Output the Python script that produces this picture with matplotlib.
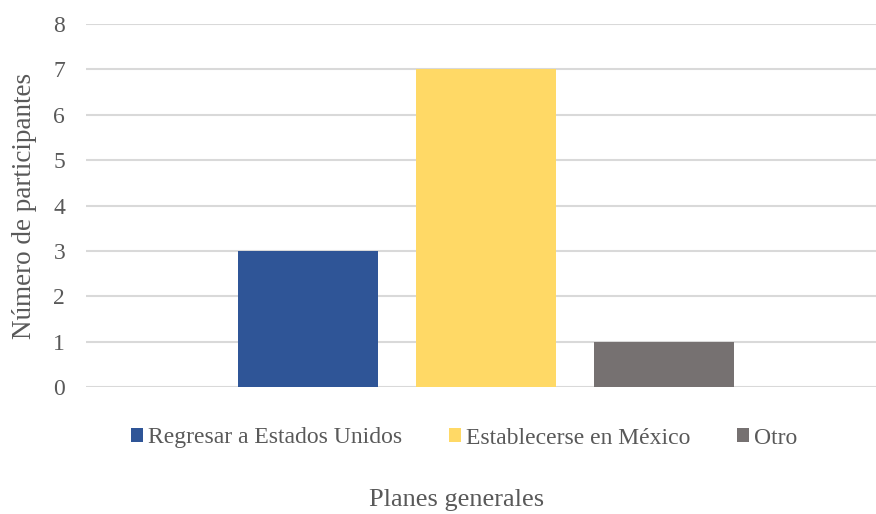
import numpy as np
import matplotlib.pyplot as plt

series = ["Regresar a Estados Unidos", "Establecerse en México", "Otro"]
values = [3, 7, 1]
colors = ["#2F5597", "#FFD966", "#767171"]
yticks = [0, 1, 2, 3, 4, 5, 6, 7, 8]

plt.rcParams['font.family'] = ['Liberation Serif', 'DejaVu Serif']
txt = "#595959"
serif = 'Liberation Serif'

fig = plt.figure(figsize=(8.76, 5.14), dpi=100)
ax = fig.add_axes([86/876, 127/514, 790/876, 363/514])

pos = np.arange(len(series))
for p, v, c, s in zip(pos, values, colors, series):
    ax.bar(p, v, width=0.79, color=c, label=s, zorder=3)

ax.set_xlim(-1.247, 3.19)
ax.set_ylim(0, 8)
ax.set_yticks(yticks)
ax.set_xticks([])
ax.yaxis.grid(True, color="#D9D9D9", linewidth=1.5, zorder=0)
for sp in ax.spines.values():
    sp.set_visible(False)
ax.tick_params(axis='y', length=0, pad=15, labelsize=17, labelcolor=txt)
for t in ax.get_yticklabels():
    t.set_family(serif)
ax.set_ylabel("Número de participantes", fontsize=19.5, color=txt,
              family=serif, labelpad=11.5)

fig.text(457/876, 1 - 500/514, "Planes generales", fontsize=19, color=txt,
         ha='center', va='center', family=serif)

leg = fig.legend(loc='center', bbox_to_anchor=(464/876, 1 - 438/514), ncol=3,
                 frameon=False, prop=dict(family=serif, size=17),
                 handlelength=0.5, handleheight=0.5,
                 handletextpad=0.2, columnspacing=2.0, labelcolor=txt)

fig.savefig("out.png", dpi=100)
